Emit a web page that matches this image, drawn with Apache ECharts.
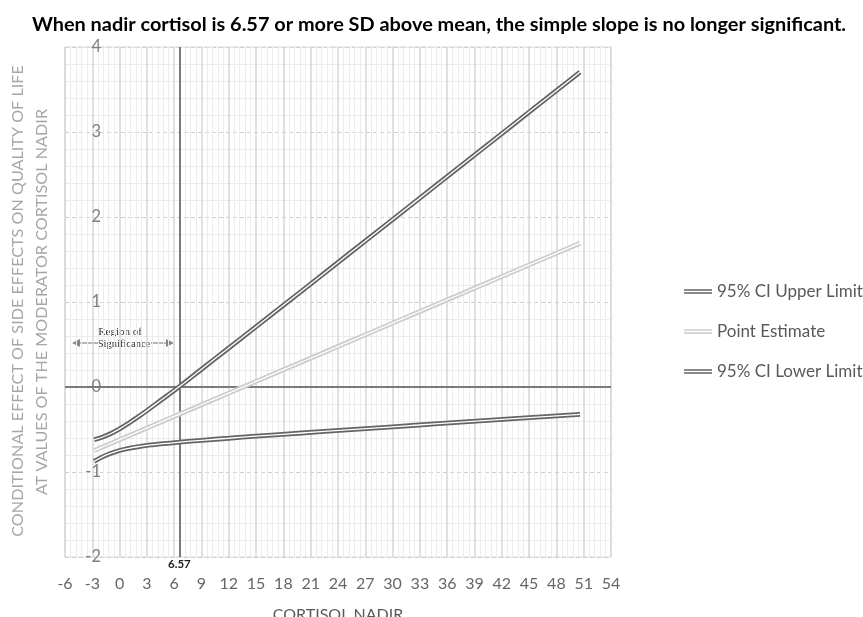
<!DOCTYPE html>
<html>
<head>
<meta charset="utf-8">
<script src="https://cdn.jsdelivr.net/npm/echarts@6/dist/echarts.min.js"></script>
<style>html,body{margin:0;padding:0;background:#fff;overflow:hidden;}#chart{width:863px;height:617px;}</style>
</head>
<body>
<div id="chart"></div>
<script>
const titleText = 'When nadir cortisol is 6.57 or more SD above mean, the simple slope is no longer significant.';
const xValues = [-2.8, -2, -1, 0, 1, 2, 3, 4.5, 6.57, 9, 12, 15, 20, 25, 30, 35, 40, 45, 50.6];
const upperLimit = [-0.621, -0.594, -0.550, -0.493, -0.426, -0.354, -0.278, -0.159, 0.005, 0.209, 0.459, 0.710, 1.129, 1.550, 1.970, 2.392, 2.812, 3.234, 3.705];
const pointEstimate = [-0.748, -0.711, -0.666, -0.620, -0.574, -0.529, -0.483, -0.414, -0.320, -0.209, -0.072, 0.066, 0.294, 0.523, 0.751, 0.980, 1.208, 1.437, 1.692];
const lowerLimit = [-0.875, -0.828, -0.782, -0.747, -0.722, -0.703, -0.688, -0.669, -0.649, -0.627, -0.603, -0.578, -0.541, -0.504, -0.468, -0.432, -0.396, -0.360, -0.321];
const seriesNames = ['95% CI Upper Limit', 'Point Estimate', '95% CI Lower Limit'];
const jnPoint = 6.57;
const xTicks = {min: -6, max: 54, interval: 3};
const yTicks = {min: -2, max: 4, interval: 1};
const yTitleLines = ['CONDITIONAL EFFECT OF SIDE EFFECTS ON QUALITY OF LIFE', 'AT VALUES OF THE MODERATOR CORTISOL NADIR'];
const xTitle = 'CORTISOL NADIR';

const pair = (ys) => xValues.map((x, i) => [x, ys[i]]);
const dark = '#646464', light = '#cccccc';
const dbl = 'path://M0,0L30,0L30,1.6L0,1.6Z M0,3.4L30,3.4L30,5L0,5Z';

function doubleLine(name, ys, color) {
  return [
    {name: name, type: 'line', data: pair(ys), smooth: 0.35, symbol: 'none', z: 5,
     lineStyle: {color: color, width: 4.8}, itemStyle: {color: color}},
    {name: name + ' (inner)', type: 'line', data: pair(ys), smooth: 0.35, symbol: 'none', z: 6, silent: true,
     lineStyle: {color: '#ffffff', width: 1.3}, itemStyle: {color: '#ffffff'}}
  ];
}

const chart = echarts.init(document.getElementById('chart'));
chart.setOption({
  animation: false,
  backgroundColor: '#ffffff',
  title: {text: titleText, left: 434, textAlign: 'center', top: 10,
    textStyle: {fontFamily: 'Lato', fontWeight: 'bold', fontSize: 19.9, color: '#000'}},
  grid: {left: 65, top: 47, width: 546, height: 510, show: true, borderColor: '#d9d9d9', borderWidth: 1,
    containLabel: false, outerBoundsMode: 'none'},
  legend: {orient: 'vertical', left: 679, top: 278, itemWidth: 28, itemHeight: 5, itemGap: 23,
    textStyle: {fontFamily: 'Lato', fontSize: 17, color: '#595959'},
    data: [{name: seriesNames[0], icon: dbl}, {name: seriesNames[1], icon: dbl}, {name: seriesNames[2], icon: dbl}]},
  xAxis: {type: 'value', min: xTicks.min, max: xTicks.max, interval: xTicks.interval,
    name: xTitle, nameLocation: 'middle', nameGap: 50,
    nameTextStyle: {fontFamily: 'Lato', fontSize: 16, color: '#595959'},
    axisLine: {show: false, onZero: false}, axisTick: {show: false},
    axisLabel: {margin: 19, fontFamily: 'Lato', fontSize: 16, color: '#666'},
    splitLine: {show: true, lineStyle: {color: '#d6d6d6', width: 1.5}},
    minorTick: {show: false, splitNumber: 5},
    minorSplitLine: {show: true, lineStyle: {color: '#ececec', width: 1}}},
  yAxis: {type: 'value', min: yTicks.min, max: yTicks.max, interval: yTicks.interval,
    offset: -38,
    axisLine: {show: false, onZero: false}, axisTick: {show: false},
    axisLabel: {margin: 2, fontFamily: 'Lato', fontSize: 16.5, color: '#7f7f7f'},
    splitLine: {show: true, lineStyle: {color: '#cfcfcf', width: 1, type: [4, 3]}},
    minorTick: {show: false, splitNumber: 5},
    minorSplitLine: {show: true, lineStyle: {color: '#ececec', width: 1}}},
  series: [
    {name: 'refs', type: 'line', data: [], z: 3, silent: true,
     markLine: {symbol: 'none', silent: true, animation: false,
       data: [
         {xAxis: jnPoint, lineStyle: {color: '#7a7a7a', width: 2, type: 'solid'},
          label: {show: true, position: 'start', formatter: String(jnPoint), distance: 1,
            fontFamily: 'Lato', fontWeight: 'bold', fontSize: 11.5, color: '#222'}},
         {yAxis: 0, lineStyle: {color: '#7a7a7a', width: 2, type: 'solid'}, label: {show: false}}
       ]}},
    ...doubleLine(seriesNames[0], upperLimit, dark),
    ...doubleLine(seriesNames[1], pointEstimate, light),
    ...doubleLine(seriesNames[2], lowerLimit, dark)
  ],
  graphic: [
    {type: 'text', x: 18, y: 301, rotation: Math.PI / 2,
     style: {text: yTitleLines[0], fontFamily: 'Lato', fontSize: 16.2, fill: '#a6a6a6', textAlign: 'center', textVerticalAlign: 'middle'}},
    {type: 'text', x: 42, y: 302, rotation: Math.PI / 2,
     style: {text: yTitleLines[1], fontFamily: 'Lato', fontSize: 16.2, fill: '#a6a6a6', textAlign: 'center', textVerticalAlign: 'middle'}},
    {type: 'text', x: 120, y: 332,
     style: {text: 'Region of', fontFamily: 'Liberation Serif', fontSize: 11, fill: '#333', textAlign: 'center', textVerticalAlign: 'middle'}},
    {type: 'text', x: 124, y: 344,
     style: {text: 'Significance', fontFamily: 'Liberation Serif', fontSize: 10.5, fill: '#333', textAlign: 'center', textVerticalAlign: 'middle'}},
    {type: 'line', shape: {x1: 78, y1: 343, x2: 98, y2: 343}, style: {stroke: '#888', lineWidth: 1.2}},
    {type: 'line', shape: {x1: 151, y1: 343, x2: 168, y2: 343}, style: {stroke: '#888', lineWidth: 1.2}},
    {type: 'polygon', shape: {points: [[72, 343], [80, 339], [80, 347]]}, style: {fill: '#888'}},
    {type: 'polygon', shape: {points: [[174, 343], [166, 339], [166, 347]]}, style: {fill: '#888'}}
  ]
});
</script>
</body>
</html>
